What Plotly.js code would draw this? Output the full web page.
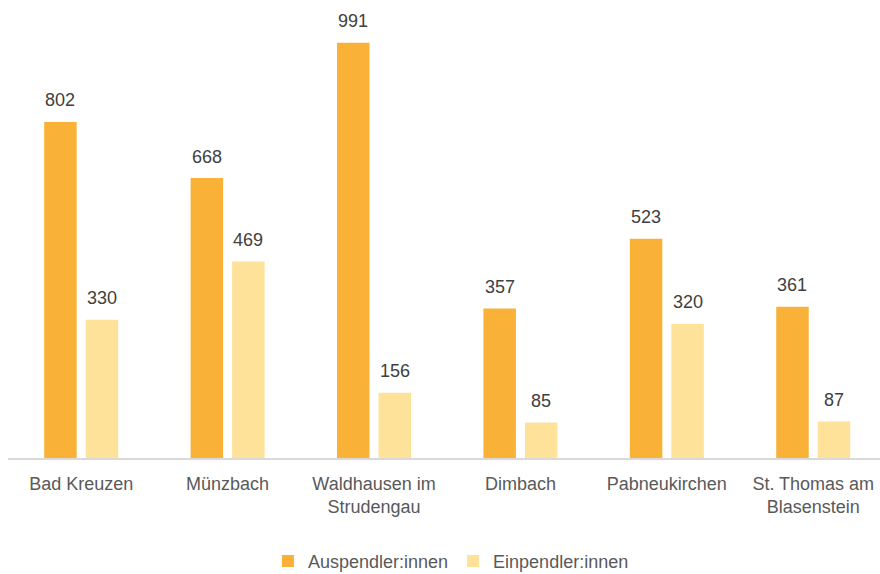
<!DOCTYPE html>
<html>
<head>
<meta charset="utf-8">
<script src="https://cdn.plot.ly/plotly-3.0.1.min.js"></script>
<style>html,body{margin:0;padding:0;background:#fff;}#chart{width:880px;height:574px;}</style>
</head>
<body>
<div id="chart"></div>
<script>
const categories = ["Bad Kreuzen", "Münzbach", "Waldhausen im<br>Strudengau", "Dimbach", "Pabneukirchen", "St. Thomas am<br>Blasenstein"];
const auspendler = [802, 668, 991, 357, 523, 361];
const einpendler = [330, 469, 156, 85, 320, 87];
const seriesNames = ["Auspendler:innen", "Einpendler:innen"];

const colA = "#F9B138";
const colE = "#FEE299";
const font = "Liberation Sans, Arial, sans-serif";

const traces = [
  {type: "bar", name: seriesNames[0], x: categories, y: auspendler, marker: {color: colA}, hoverinfo: "none"},
  {type: "bar", name: seriesNames[1], x: categories, y: einpendler, marker: {color: colE}, hoverinfo: "none"}
];

const annotations = [];
categories.forEach((c, i) => {
  annotations.push({x: c, y: auspendler[i], xref: "x", yref: "y", text: String(auspendler[i]), showarrow: false,
    xshift: -20.75, yshift: 21.5, yanchor: "middle", font: {family: font, size: 18, color: "#404040"}});
  annotations.push({x: c, y: einpendler[i], xref: "x", yref: "y", text: String(einpendler[i]), showarrow: false,
    xshift: 20.75, yshift: 21.5, yanchor: "middle", font: {family: font, size: 18, color: "#404040"}});
});

const layout = {
  width: 880, height: 574,
  margin: {l: 8, r: 0, t: 39, b: 116, autoexpand: false},
  paper_bgcolor: "#fff", plot_bgcolor: "#fff",
  barmode: "group", bargap: 0.433, bargroupgap: 0.217,
  font: {family: font, size: 18, color: "#595959"},
  xaxis: {type: "category", range: [-0.5, 5.456], automargin: false, showline: true, linecolor: "#d9d9d9", linewidth: 2,
    ticks: "outside", ticklen: 8, tickcolor: "rgba(0,0,0,0)", showgrid: false,
    tickfont: {family: font, size: 18, color: "#595959"}, fixedrange: true},
  yaxis: {range: [0, 1000], visible: false, showgrid: false, zeroline: false, fixedrange: true, automargin: false},
  showlegend: true,
  legend: {orientation: "h", x: 0.508, xanchor: "center", yref: "container", y: 0.022, yanchor: "middle",
    font: {family: font, size: 18, color: "#595959"}, itemwidth: 30, traceorder: "normal"},
  annotations: annotations
};

Plotly.newPlot("chart", traces, layout, {displayModeBar: false, staticPlot: true});
</script>
</body>
</html>
